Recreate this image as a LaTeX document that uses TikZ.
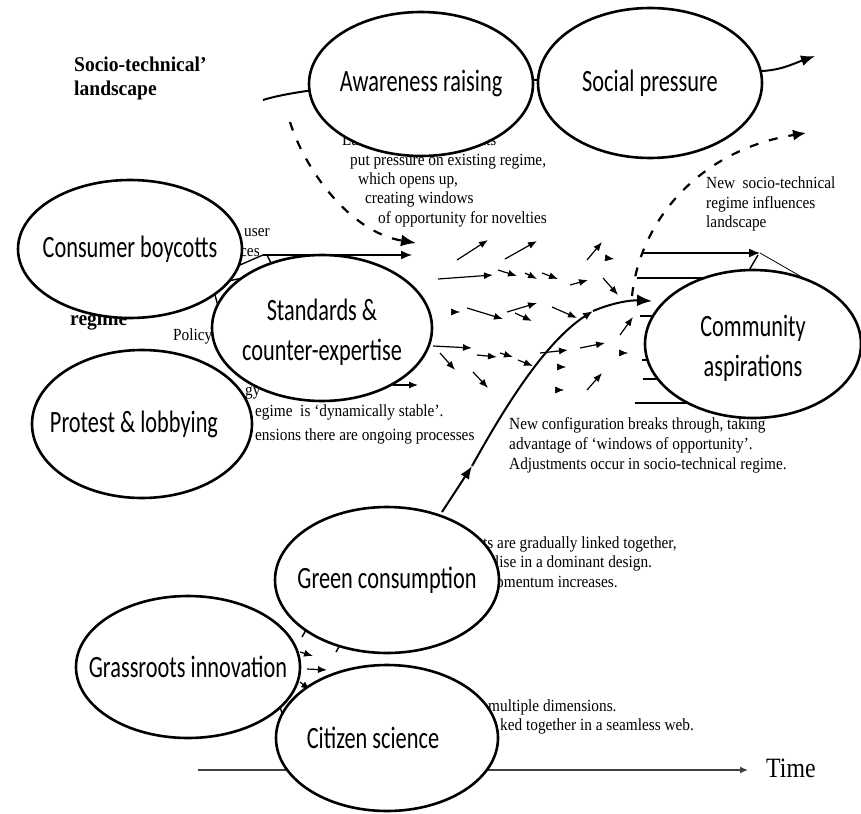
\documentclass[tikz,border=0pt]{standalone}
\usepackage{fontspec}
\usetikzlibrary{shapes.geometric,arrows.meta}
\newfontfamily\elf[FakeStretch=0.72]{Carlito}
\newfontfamily\ser[FakeStretch=0.9]{Liberation Serif}
\newfontfamily\serb[FakeStretch=0.93]{Liberation Serif}
\newfontfamily\timef[FakeStretch=0.85]{Liberation Serif}
\begin{document}
\begin{tikzpicture}[x=1pt,y=-1pt,
  el/.style={ellipse, draw, fill=white, line width=2.6pt, inner sep=0pt},
  elt/.style={inner sep=0pt, font=\elf\fontsize{31}{40}\selectfont, align=center},
  lab/.style={font=\ser\fontsize{17}{20}\selectfont, anchor=west, inner sep=0pt,
    text height=12pt, text depth=4pt},
  bld/.style={font=\serb\bfseries\fontsize{21}{24}\selectfont, anchor=base west, inner sep=0pt},
  ml/.style={line width=2pt},
  dsh/.style={line width=2.2pt, dash pattern=on 9pt off 11pt},
  bigtip/.style={-{Latex[length=15pt,width=12pt]}},
  sa/.style={line width=1.2pt, -{Latex[length=9pt,width=7pt]}},
  ah/.style={line width=0.6pt, -{Latex[length=9pt,width=7pt]}},
  tl/.style={line width=1.4pt}
]
\useasboundingbox (0,0) rectangle (861,813);

% ---------- background figure ----------
% landscape curve
\draw[ml, -{Latex[length=14pt,width=11pt]}] (263,100) .. controls (300,88) and (420,76) .. (538,80)
  .. controls (650,84) and (740,72) .. (762,71) .. controls (782,70) and (795,63) .. (815,56);
% dashed landscape pressure
\draw[dsh, bigtip] (290,122) .. controls (305,170) and (350,232) .. (416,243);
% new regime influences landscape
\draw[dsh, -{Latex[length=13pt,width=11pt]}] (632,296) .. controls (640,220) and (700,150) .. (806,133);
% main breakthrough curve
\draw[ml, -{Latex[length=13pt,width=10pt]}] (442,512) -- (472,466);
\draw[ml, -{Latex[length=10pt,width=8pt]}] (472,466) .. controls (495,425) and (540,345) .. (593,311);
\draw[ml, bigtip] (593,311) .. controls (612,303) and (630,300) .. (652,301);

% left regime lines
\draw[tl] (233,268) -- (263,255);
\draw[tl, -{Latex[length=11pt,width=9pt]}] (263,255) -- (412,255);
\draw[tl] (267,255) -- (271,263);
\draw[tl] (228,281) -- (243,278);
\draw[tl] (215,295) -- (218,306);

% right regime lines
\draw[tl, -{Latex[length=11pt,width=9pt]}] (642,253) -- (760,253);
\draw[line width=0.8pt] (760,253) -- (807,280);
\draw[tl] (748,272) -- (758,255);
\draw[tl] (637,278) -- (720,278);
\draw[tl] (640,316) -- (660,316);
\draw[tl] (642,360) -- (658,360);
\draw[tl] (643,379) -- (662,379);
\draw[tl] (635,403) -- (690,403);

% small novelty arrows
\draw[sa] (457,260) -- (488,240);
\draw[sa] (505,259) -- (537,241);
\draw[sa] (587,260) -- (602,242);
\draw[ah] (606,258) -- (614,259);
\draw[sa] (438,279) -- (493,275);
\draw[sa] (498,270) -- (517,276);
\draw[sa] (525,273) -- (537,279);
\draw[sa] (542,273) -- (558,279);
\draw[sa] (570,285) -- (588,280);
\draw[sa] (603,278) -- (618,295);
\draw[ah] (452,312) -- (460,312);
\draw[sa] (467,308) -- (503,319);
\draw[sa] (507,312) -- (537,303);
\draw[sa] (515,313) -- (532,321);
\draw[sa] (552,307) -- (577,318);
\draw[sa] (620,335) -- (633,317);
\draw[sa] (433,346) -- (472,348);
\draw[sa] (440,353) -- (455,370);
\draw[sa] (477,355) -- (497,357);
\draw[sa] (500,353) -- (513,357);
\draw[sa] (518,360) -- (533,366);
\draw[sa] (540,353) -- (568,350);
\draw[sa] (580,348) -- (605,343);
\draw[ah] (620,353) -- (628,353);
\draw[ah] (558,367) -- (566,367);
\draw[sa] (473,372) -- (488,388);
\draw[ah] (556,390) -- (564,390);
\draw[sa] (587,390) -- (602,373);
\draw[sa] (393,385) -- (418,385);

% niche arrows
\draw[tl] (302,637) -- (306,630);
\draw[sa] (300,652) -- (313,656);
\draw[sa] (307,669) -- (327,670);
\draw[sa] (300,682) -- (310,690);
\draw[tl] (336,652) -- (340,645);
\draw[tl] (280,707) -- (282,713);

% time axis
\draw[line width=1.4pt, black!75, -{Latex[length=8pt,width=7pt]}] (198,770) -- (748,770);
\node[font=\timef\fontsize{28}{30}\selectfont, anchor=west, inner sep=0pt] (time) at (766,768) {Time};

% texts
\node[bld] (st1) at (74,72) {Socio-technical’};
\node[bld] (st2) at (74,96) {landscape};
\node[bld] (reg) at (70,325) {regime};

\node[lab] (t1) at (342,142) {Landscape developments};
\node[lab] (t2) at (350,161) {put pressure on existing regime,};
\node[lab] (t3) at (358,181) {which opens up,};
\node[lab] (t4) at (365,200) {creating windows};
\node[lab] (t5) at (378,219) {of opportunity for novelties};

\node[lab] (t6) at (244,232) {user};
\node[lab] (t7) at (240,252) {ces};
\node[lab] (t8) at (173,336) {Policy};
\node[lab] (t9) at (245,391) {gy};
\node[lab] (t10) at (255,412) {egime\ \ is ‘dynamically stable’.};
\node[lab] (t11) at (255,436) {ensions there are ongoing processes};

\node[lab] (t12) at (509,425) {New configuration breaks through, taking};
\node[lab] (t13) at (509,445) {advantage of ‘windows of opportunity’.};
\node[lab] (t14) at (509,465) {Adjustments occur in socio-technical regime.};

\node[lab] (t15) at (706,184) {New\ \ socio-technical};
\node[lab] (t16) at (706,204) {regime influences};
\node[lab] (t17) at (706,223) {landscape};

\node[lab] (t18) at (483,544) {ts are gradually linked together,};
\node[lab] (t19) at (495,563) {lise in a dominant design.};
\node[lab] (t20) at (496,583) {omentum increases.};

\node[lab] (t21) at (488,707) {multiple dimensions.};
\node[lab] (t22) at (500,726) {ked together in a seamless web.};

% ---------- ellipses ----------
\node[el, minimum width=224pt, minimum height=144pt] (aware) at (421,84) {};
\node[elt] at (aware) {Awareness raising};
\node[el, minimum width=224pt, minimum height=150pt] (social) at (650,83) {};
\node[elt] at (social) {Social pressure};
\node[el, minimum width=224pt, minimum height=138pt] (boycott) at (130,249) {};
\node[elt] at (boycott) {Consumer boycotts};
\node[el, minimum width=220pt, minimum height=148pt] (protest) at (142,424) {};
\node[elt] at ([xshift=-8pt]protest.center) {Protest \& lobbying};
\node[el, minimum width=220pt, minimum height=146pt] (stand) at (322,328) {};
\node[elt] at ([yshift=-4pt]stand.center) {Standards \&\\counter-expertise};
\node[el, minimum width=216pt, minimum height=148pt] (comm) at (753,344) {};
\node[elt] at ([yshift=-4pt]comm.center) {Community\\aspirations};
\node[el, minimum width=224pt, minimum height=146pt] (green) at (387,580) {};
\node[elt] at (green) {Green consumption};
\node[el, minimum width=224pt, minimum height=142pt] (grass) at (188,667) {};
\node[elt] at (grass) {Grassroots innovation};
\node[el, minimum width=222pt, minimum height=146pt] (citizen) at (387,738) {};
\node[elt] at ([xshift=-14pt]citizen.center) {Citizen science};
\end{tikzpicture}
\end{document}
